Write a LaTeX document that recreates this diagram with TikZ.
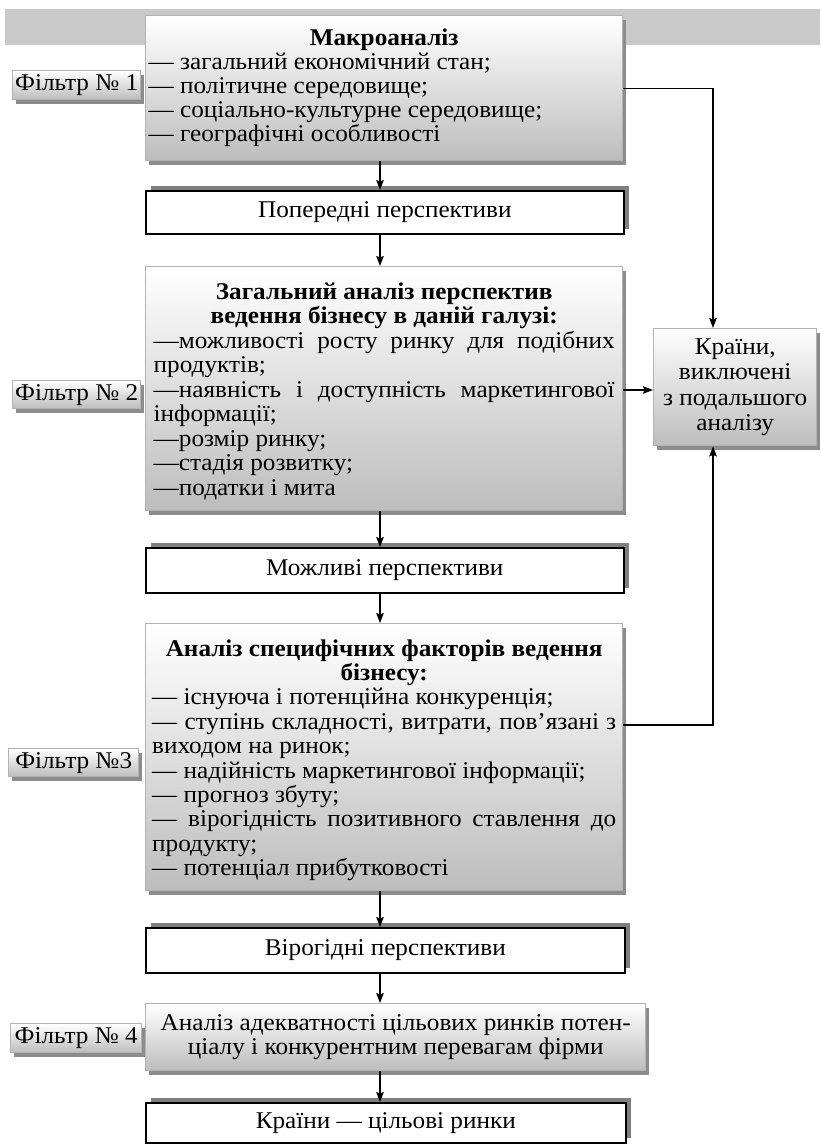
\documentclass[tikz,border=0pt]{standalone}
\usepackage{fontspec}
\setmainfont{Liberation Serif}[FakeStretch=1.05]
\usetikzlibrary{shadows,arrows.meta}

% fixed-size text block: height, width, contents
\newcommand\boxtext[3]{\parbox[c][#1][t]{#2}{#3}}

\begin{document}
\begin{tikzpicture}[x=1pt,y=-1pt,
  font=\fontsize{24pt}{24pt}\selectfont,
  gbox/.style={rectangle, draw=black!30, line width=1.4pt,
    top color=white, bottom color=black!26,
    drop shadow={shadow xshift=3pt, shadow yshift=-4pt, fill=black!45, opacity=1},
    inner sep=0pt, anchor=north west},
  wbox/.style={rectangle, draw=black, line width=1.6pt, fill=white,
    drop shadow={shadow xshift=5pt, shadow yshift=5pt, fill=black!50, opacity=1},
    inner sep=0pt, anchor=north west},
  filt/.style={gbox, minimum height=28pt, align=center},
  flow/.style={line width=1.4pt, -{Stealth[length=10pt,width=7.5pt,inset=1.5pt]}},
]
\useasboundingbox (0,0) rectangle (820,1144);

% grey band along the top
\fill[black!21] (5,9) rectangle (820,45);

% ---- main column ----
\node[gbox, inner xsep=3pt] (m1) at (145,15) {\boxtext{145pt}{471pt}{%
  \vspace*{13.5pt}\fontsize{24pt}{23.8pt}\selectfont
  {\centering\bfseries Макроаналіз\par}
  \raggedright
  — загальний економічний стан;\\
  — політичне середовище;\\
  — соціально-культурне середовище;\\
  — географічні особливості}};

\node[wbox, minimum width=478pt, minimum height=43pt] (p1) at (145,190) {Попередні перспективи};

\node[gbox, inner xsep=8pt] (z) at (145,266) {\boxtext{244pt}{461pt}{%
  \vspace*{15.7pt}\fontsize{24pt}{24.5pt}\selectfont
  {\centering\bfseries Загальний аналіз перспектив\\ведення бізнесу в даній галузі:\par}
  \raggedright
  \makebox[\linewidth][s]{—можливості росту ринку для подібних}\\
  продуктів;\\
  \makebox[\linewidth][s]{—наявність і доступність маркетингової}\\
  інформації;\\
  —розмір ринку;\\
  —стадія розвитку;\\
  —податки і мита}};

\node[wbox, minimum width=478pt, minimum height=45pt] (mo) at (145,547) {Можливі перспективи};

\node[gbox, inner xsep=6.5pt] (a) at (145,623) {\boxtext{267pt}{464pt}{%
  \vspace*{15.7pt}\fontsize{24pt}{24.4pt}\selectfont
  {\centering\bfseries Аналіз специфічних факторів ведення\\бізнесу:\par}
  \raggedright
  — існуюча і потенційна конкуренція;\\
  \makebox[\linewidth][s]{— ступінь складності, витрати, пов’язані з}\\
  виходом на ринок;\\
  — надійність маркетингової інформації;\\
  — прогноз збуту;\\
  \makebox[\linewidth][s]{— вірогідність позитивного ставлення до}\\
  продукту;\\
  — потенціал прибутковості}};

\node[wbox, minimum width=479pt, minimum height=45pt] (v) at (145,927) {Вірогідні перспективи};

\node[gbox, minimum width=500pt, minimum height=67pt, align=center] (f4b) at (145,1003)
  {Аналіз адекватності цільових ринків потен-\\ціалу і конкурентним перевагам фірми};

\node[wbox, minimum width=480pt, minimum height=40pt] (k) at (145,1102) {Країни — цільові ринки};

% ---- excluded countries ----
\node[gbox, minimum width=163pt, minimum height=117pt, align=center,
  font=\fontsize{24pt}{25.5pt}\selectfont] (ex) at (653,328)
  {Країни,\\виключені\\з подальшого\\аналізу};

% ---- filter labels ----
\node[filt, minimum width=128pt, minimum height=29pt] (f1) at (12,70) {Фільтр № 1};
\node[filt, minimum width=128pt] (f2) at (12,380) {Фільтр № 2};
\node[filt, minimum width=130pt] (f3) at (8,748) {Фільтр №3};
\node[filt, minimum width=131pt, minimum height=29pt] (f4) at (10,1023) {Фільтр № 4};

% ---- connectors ----
\coordinate (ax) at (380,0);
\coordinate (bus) at (713,0);
\coordinate (r2) at (0,390);
\coordinate (r3) at (0,725);

\draw[flow] (m1.south -| ax) -- (p1.north -| ax);
\draw[flow] (p1.south -| ax) -- (z.north -| ax);
\draw[flow] (z.south -| ax) -- (mo.north -| ax);
\draw[flow] (mo.south -| ax) -- (a.north -| ax);
\draw[flow] (a.south -| ax) -- (v.north -| ax);
\draw[flow] (v.south -| ax) -- (f4b.north -| ax);
\draw[flow] (f4b.south -| ax) -- (k.north -| ax);

\draw[flow] (m1.east) -| (bus |- ex.north);
\draw[flow] (z.east |- r2) -- (ex.west |- r2);
\draw[flow] (a.east |- r3) -| (bus |- ex.south);
\end{tikzpicture}
\end{document}
